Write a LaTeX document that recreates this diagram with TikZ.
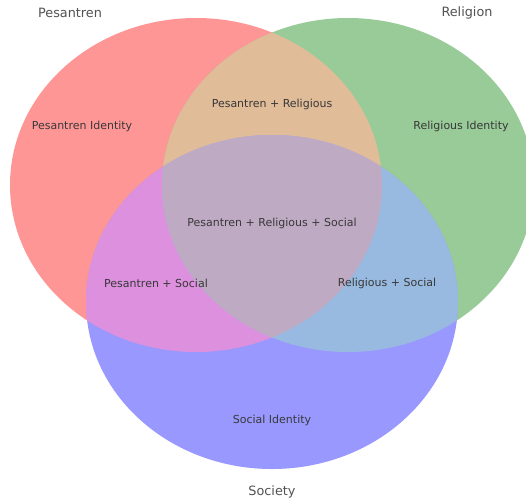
\documentclass[tikz,border=0pt]{standalone}
\usepackage{fontspec}
\setmainfont{DejaVu Sans}
\begin{document}
\begin{tikzpicture}[x=1pt,y=-1pt,
  lbl/.style={text=black!78, font=\fontsize{11}{12}\selectfont, inner sep=0pt},
  ttl/.style={text=black!68, font=\fontsize{12.8}{14}\selectfont, inner sep=0pt}]
\definecolor{ronly}{RGB}{255,150,150}
\definecolor{gonly}{RGB}{153,203,153}
\definecolor{bonly}{RGB}{152,152,255}
\definecolor{rg}{RGB}{225,188,152}
\definecolor{rb}{RGB}{220,144,222}
\definecolor{gb}{RGB}{152,186,224}
\definecolor{rgb}{RGB}{191,170,196}
\useasboundingbox (0,0) rectangle (526,501);
\fill[white] (0,0) rectangle (526,501);
\begin{scope}
\clip (0,0) rectangle (526,501);
\def\R{(196,185) ellipse [x radius=186, y radius=167]}
\def\G{(348,185) ellipse [x radius=186, y radius=167]}
\def\B{(272,302) ellipse [x radius=186, y radius=167]}
\fill[ronly] \R;
\fill[gonly] \G;
\fill[bonly] \B;
\begin{scope}\clip \R; \fill[rg] \G; \end{scope}
\begin{scope}\clip \R; \fill[rb] \B; \end{scope}
\begin{scope}\clip \G; \fill[gb] \B; \end{scope}
\begin{scope}\clip \R; \clip \G; \fill[rgb] \B; \end{scope}
\end{scope}
\node[ttl] (tp) at (70,13) {Pesantren};
\node[ttl] (tr) at (467,13) {Religion};
\node[ttl] (ts) at (272,492) {Society};
\node[lbl] (l1) at (82,126) {Pesantren Identity};
\node[lbl] (l2) at (461,126) {Religious Identity};
\node[lbl] (l3) at (272,104) {Pesantren + Religious};
\node[lbl] (l4) at (272,223) {Pesantren + Religious + Social};
\node[lbl] (l5) at (156,283) {Pesantren + Social};
\node[lbl] (l6) at (387,283) {Religious + Social};
\node[lbl] (l7) at (272,420) {Social Identity};
\end{tikzpicture}
\end{document}
